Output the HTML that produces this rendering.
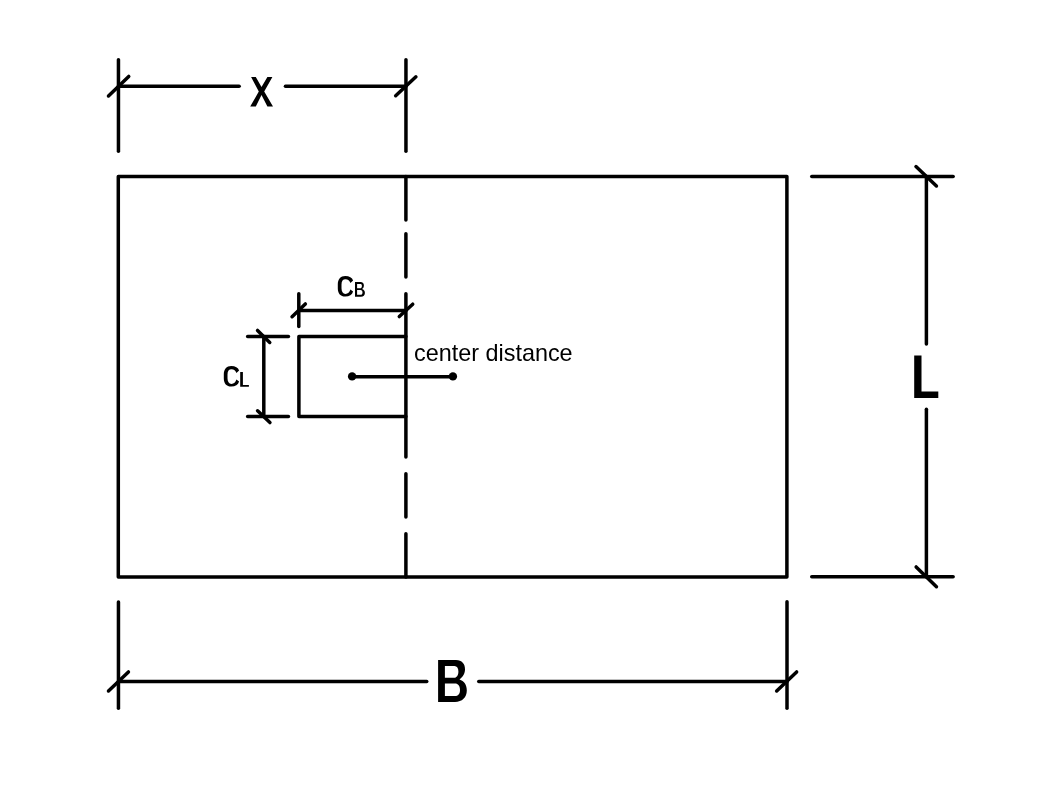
<!DOCTYPE html>
<html><head><meta charset="utf-8">
<style>
html,body{margin:0;padding:0;background:#fff;width:1038px;height:808px;overflow:hidden}
svg{display:block}
</style></head>
<body>
<svg width="1038" height="808" viewBox="0 0 1038 808">
<rect x="0" y="0" width="1038" height="808" fill="#fff"/>
<g fill="none" stroke="#000" stroke-width="3.5" stroke-linecap="round" stroke-linejoin="round">
<line x1="118.45" y1="59.75" x2="118.45" y2="151.15"/>
<line x1="405.95" y1="59.85" x2="405.95" y2="151.15"/>
<line x1="118.45" y1="86.20" x2="239.15" y2="86.20"/>
<line x1="285.45" y1="86.20" x2="405.95" y2="86.20"/>
<line x1="108.46" y1="95.98" x2="128.74" y2="76.42"/>
<line x1="395.68" y1="95.71" x2="415.92" y2="76.84"/>
<line x1="405.90" y1="176.55" x2="405.90" y2="219.95"/>
<line x1="405.90" y1="233.65" x2="405.90" y2="276.95"/>
<line x1="405.90" y1="293.65" x2="405.90" y2="456.95"/>
<line x1="405.90" y1="473.65" x2="405.90" y2="516.95"/>
<line x1="405.90" y1="533.65" x2="405.90" y2="577.05"/>
<line x1="298.80" y1="293.85" x2="298.80" y2="326.55"/>
<line x1="298.80" y1="310.40" x2="405.90" y2="310.40"/>
<line x1="292.06" y1="316.69" x2="305.34" y2="303.91"/>
<line x1="399.29" y1="316.52" x2="412.71" y2="304.18"/>
<line x1="247.65" y1="336.45" x2="288.45" y2="336.45"/>
<line x1="247.65" y1="416.60" x2="288.45" y2="416.60"/>
<line x1="263.80" y1="336.45" x2="263.80" y2="416.60"/>
<line x1="257.55" y1="330.43" x2="269.75" y2="342.47"/>
<line x1="257.57" y1="410.81" x2="269.93" y2="422.59"/>
<line x1="352.10" y1="376.70" x2="452.90" y2="376.70"/>
<line x1="811.75" y1="176.40" x2="953.15" y2="176.40"/>
<line x1="811.75" y1="576.85" x2="953.15" y2="576.85"/>
<line x1="926.40" y1="176.40" x2="926.40" y2="343.95"/>
<line x1="926.40" y1="409.25" x2="926.40" y2="576.85"/>
<line x1="915.97" y1="166.60" x2="936.43" y2="186.00"/>
<line x1="916.15" y1="566.92" x2="936.45" y2="586.68"/>
<line x1="118.45" y1="601.95" x2="118.45" y2="708.15"/>
<line x1="787.00" y1="601.85" x2="787.00" y2="708.15"/>
<line x1="118.45" y1="681.45" x2="426.75" y2="681.45"/>
<line x1="478.75" y1="681.45" x2="787.00" y2="681.45"/>
<line x1="108.47" y1="690.99" x2="128.43" y2="671.91"/>
<line x1="776.67" y1="690.99" x2="796.63" y2="671.91"/>
<rect x="118.3" y="176.55" width="668.6" height="400.5"/>
<polyline points="405.9,336.45 298.9,336.45 298.9,416.6 405.9,416.6"/>
</g>
<g fill="#000">
<circle cx="352.1" cy="376.4" r="4.2"/>
<circle cx="452.9" cy="376.4" r="4.2"/>
<polygon points="251.1,77.1 255.8,77.1 261.5,86.9 267.4,77.1 272.4,77.1 264.2,91.5 273,106.6 267.4,106.6 261.5,95.1 255.8,106.6 250.2,106.6 258.8,91.5"/>
<polygon points="914.2,355.6 921.5,355.6 921.5,391.5 938.3,391.5 938.3,398 914.2,398"/>
<path fill-rule="evenodd" d="M438.1,660.1 H456 C462,660.1 465,664 465,669.5 C465,674 462.5,677 459.5,679.5 C464,681 466.8,684.5 466.8,690.5 C466.8,697.5 462,701.9 455,701.9 H438.1 Z M444.9,665.9 H454.5 C457,665.9 458.4,668 458.4,671.5 C458.4,675.5 456.5,677.8 454,677.8 H444.9 Z M444.9,683.6 H455 C458,683.6 460,686 460,690 C460,694 458,696.1 455,696.1 H444.9 Z"/>
<polygon points="240.2,372.1 242.9,372.1 242.9,385 248.9,385 248.9,386.8 240.2,386.8"/>
<path d="M353.1,280.6 C352.2,277.8 349.3,276.1 345.3,276.1 C340.5,276.1 337.8,279.5 337.8,284.5 V288.5 C337.8,293.5 340.5,296.6 345.3,296.6 C349.3,296.6 352.2,294.8 353.1,291.6 L350.4,289.6 C349.7,292.2 347.8,293.9 345.5,293.9 C342.9,293.9 341.5,291.8 341.5,288.3 V284.5 C341.5,281.0 342.9,279.2 345.5,279.2 C347.8,279.2 349.8,280.7 350.4,283.0 Z"/>
<path transform="translate(-114,90)" d="M353.1,280.6 C352.2,277.8 349.3,276.1 345.3,276.1 C340.5,276.1 337.8,279.5 337.8,284.5 V288.5 C337.8,293.5 340.5,296.6 345.3,296.6 C349.3,296.6 352.2,294.8 353.1,291.6 L350.4,289.6 C349.7,292.2 347.8,293.9 345.5,293.9 C342.9,293.9 341.5,291.8 341.5,288.3 V284.5 C341.5,281.0 342.9,279.2 345.5,279.2 C347.8,279.2 349.8,280.7 350.4,283.0 Z"/>
<path fill-rule="evenodd" d="M355.0,282.1 H360.6 C362.7,282.1 363.9,283.5 363.9,285.4 C363.9,286.9 363.2,288.4 361.9,289.0 C363.9,289.4 364.9,291.0 364.9,292.9 C364.9,295.2 363.4,296.7 360.9,296.7 H355.0 Z M357.1,283.95 H360.3 C361.4,283.95 361.9,284.6 361.9,285.9 C361.9,287.4 361.2,288.2 360.1,288.2 H357.1 Z M357.1,290.0 H360.5 C361.9,290.0 362.5,291.0 362.5,292.5 C362.5,294.0 361.8,294.8 360.5,294.8 H357.1 Z"/>
</g>
<text x="414" y="360.6" font-family="Liberation Sans, sans-serif" font-size="23.4" fill="#000" style="filter:grayscale(1)">center distance</text>
</svg>
</body></html>
